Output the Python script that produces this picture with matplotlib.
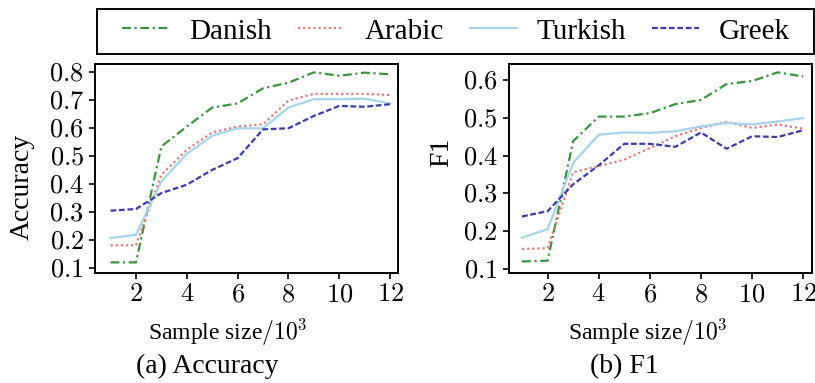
import numpy as np
import matplotlib
matplotlib.use('Agg')
import matplotlib.pyplot as plt
from matplotlib.ticker import FuncFormatter
from matplotlib.patches import Rectangle

plt.rcParams['font.family'] = 'Liberation Serif'
plt.rcParams['mathtext.fontset'] = 'cm'

sizes = np.arange(1, 13)  # sample size / 10^3

acc_danish = [0.12, 0.12, 0.535, 0.606, 0.674, 0.689, 0.743, 0.763, 0.800, 0.788, 0.799, 0.793]
acc_arabic = [0.181, 0.181, 0.433, 0.523, 0.585, 0.606, 0.614, 0.699, 0.723, 0.723, 0.723, 0.719]
acc_turkish = [0.207, 0.219, 0.410, 0.508, 0.573, 0.600, 0.600, 0.674, 0.704, 0.704, 0.706, 0.689]
acc_greek = [0.305, 0.311, 0.368, 0.398, 0.451, 0.493, 0.596, 0.600, 0.644, 0.680, 0.677, 0.686]

f1_danish = [0.120, 0.122, 0.438, 0.503, 0.503, 0.512, 0.536, 0.547, 0.589, 0.597, 0.620, 0.609]
f1_arabic = [0.153, 0.155, 0.356, 0.372, 0.389, 0.420, 0.451, 0.473, 0.489, 0.473, 0.482, 0.471]
f1_turkish = [0.183, 0.205, 0.381, 0.455, 0.461, 0.460, 0.464, 0.477, 0.486, 0.482, 0.490, 0.499]
f1_greek = [0.239, 0.253, 0.324, 0.374, 0.431, 0.431, 0.423, 0.461, 0.418, 0.451, 0.449, 0.467]

names = ['Danish', 'Arabic', 'Turkish', 'Greek']
colors = ['#3a963a', '#e87878', '#a6d4e8', '#3c3cae']
styles = [(0, (4, 1.6, 1, 1.6)), (0, (1, 1.3)), '-', (0, (2.6, 1.2))]

fig = plt.figure(figsize=(8.15, 3.83), dpi=100)
ax1 = fig.add_axes([0.1166, 0.2872, 0.3717, 0.5457])
ax2 = fig.add_axes([0.6245, 0.2872, 0.3718, 0.5457])

for ax, series in [(ax1, [acc_danish, acc_arabic, acc_turkish, acc_greek]),
                   (ax2, [f1_danish, f1_arabic, f1_turkish, f1_greek])]:
    for vals, name, c, ls in zip(series, names, colors, styles):
        ax.plot(sizes, vals, linestyle=ls, color=c, lw=1.6, label=name)
    ax.set_xticks([2, 4, 6, 8, 10, 12])
    ax.xaxis.set_major_formatter(FuncFormatter(lambda v, p: '$%d$' % v))
    ax.yaxis.set_major_formatter(FuncFormatter(lambda v, p: '$%.1f$' % v))
    ax.tick_params(labelsize=19, length=4, width=1.2, pad=4)
    for s in ax.spines.values():
        s.set_linewidth(1.4)

ax1.set_xlim(0.39, 12.31)
ax1.set_ylim(0.082, 0.83)
ax1.set_yticks(np.arange(0.1, 0.81, 0.1))
ax2.set_xlim(0.49, 12.34)
ax2.set_ylim(0.0895, 0.642)
ax2.set_yticks(np.arange(0.1, 0.61, 0.1))

fig.text(0.027, 0.5125, 'Accuracy', rotation=90, ha='center', va='center', fontsize=20)
fig.text(0.542, 0.603, 'F1', rotation=90, ha='center', va='center', fontsize=20)
fig.text(0.280, 0.131, 'Sample size$/10^{3}$', ha='center', va='center', fontsize=17)
fig.text(0.795, 0.131, 'Sample size$/10^{3}$', ha='center', va='center', fontsize=17)
fig.text(0.254, 0.042, '(a) Accuracy', ha='center', va='center', fontsize=20)
fig.text(0.766, 0.042, '(b) F1', ha='center', va='center', fontsize=20)

# legend box spans the full width, entries sit in the middle
fig.patches.append(Rectangle((0.119, 0.859), 0.8798, 0.1175, transform=fig.transFigure,
                             fill=False, edgecolor='black', lw=1.4))
h, l = ax1.get_legend_handles_labels()
fig.legend(h, l, loc='center', bbox_to_anchor=(0.5595, 0.9178), ncol=4, fontsize=21,
           frameon=False, handlelength=1.6, handletextpad=0.68, columnspacing=0.9,
           borderaxespad=0, borderpad=0)

fig.savefig('out.png', dpi=100)
